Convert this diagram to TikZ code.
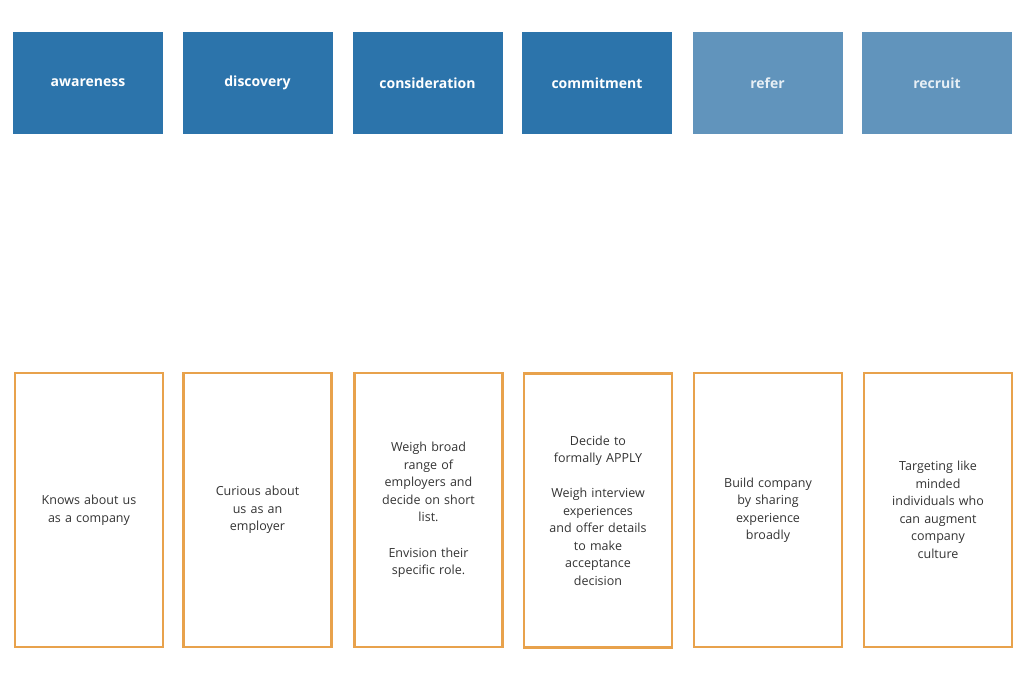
\documentclass[tikz,border=0pt]{standalone}
\usepackage{fontspec}
\setmainfont{Open Sans}
\definecolor{stageblue}{HTML}{2C74AB}
\definecolor{stagepale}{HTML}{6194BC}
\definecolor{cardorange}{HTML}{E8A24C}
\tikzset{
  stage/.style={fill=stageblue, minimum width=150pt, minimum height=102pt, text=white, font=\fontsize{14}{17}\selectfont\bfseries},
  later/.style={stage, fill=stagepale, text=white!85!stagepale},
  card/.style={draw=cardorange, line width=2.5pt, minimum width=148pt, minimum height=274pt, align=center, text width=112pt, text=black!80, font=\fontsize{12.5}{17.5}\selectfont}
}
\begin{document}
\begin{tikzpicture}[x=1pt,y=1pt]

\useasboundingbox (0,0) rectangle (1024,-684);

\node [stage] (awareness) at (88,-83) {awareness};
\node [stage] (discovery) at (257.5,-83) {discovery};
\node [stage] (consideration) at (427.5,-83) {consideration};
\node [stage] (commitment) at (597,-83) {commitment};
\node [later] (refer) at (767.5,-83) {refer};
\node [later] (recruit) at (937,-83) {recruit};

\node [card] (knows) at (89,-510) {Knows about us\\as a company};
\node [card] (curious) at (257.5,-510) {Curious about\\us as an\\employer};
\node [card] (weigh) at (428.5,-510) {Weigh broad\\range of\\employers and\\decide on short\\list.\\[17.5pt]Envision their\\specific role.};
\node [card] (decide) at (598,-510.5) {Decide to\\formally APPLY\\[17.5pt]Weigh interview\\experiences\\and offer details\\to make\\acceptance\\decision};
\node [card] (build) at (768,-510) {Build company\\by sharing\\experience\\broadly};
\node [card] (target) at (938,-510) {Targeting like\\minded\\individuals who\\can augment\\company\\culture};

\end{tikzpicture}
\end{document}
